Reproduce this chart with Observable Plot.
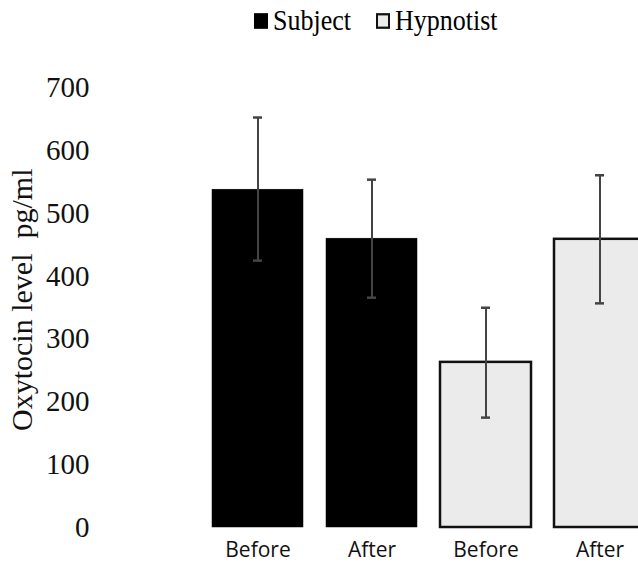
<!DOCTYPE html>
<html>
<head>
<meta charset="utf-8">
<script src="https://cdn.jsdelivr.net/npm/d3@7"></script>
<script src="https://cdn.jsdelivr.net/npm/@observablehq/plot@0.6"></script>
<style>
  body { margin: 0; background: white; width: 638px; height: 562px; overflow: hidden; }
  #legend { position: relative; height: 40px; font-family: "Liberation Serif", "Times New Roman", serif; font-size: 26px; color: #000; }
  .item { position: absolute; top: 6px; display: flex; align-items: center; line-height: 30px; transform: scaleY(1.12); transform-origin: left center; }
  .sw { width: 14px; height: 14px; margin-right: 5px; box-sizing: border-box; }
</style>
</head>
<body>
<div id="legend">
  <div class="item" style="left:254px"><span class="sw" style="background:#000"></span>Subject</div>
  <div class="item" style="left:376px"><span class="sw" style="background:#ebebeb;border:2px solid #111"></span>Hypnotist</div>
</div>
<div id="chart"></div>
<script>
const groups = ["Subject", "Subject", "Hypnotist", "Hypnotist"];
const times = ["Before", "After", "Before", "After"];
const means = [538, 460, 263, 459];
const lower = [425, 366, 175, 357];
const upper = [653, 554, 350, 561];
const yTicks = [0, 100, 200, 300, 400, 500, 600, 700];
const yLabel = "Oxytocin level  pg/ml";

const data = groups.map((g, i) => ({key: g + " " + times[i], group: g, time: times[i], mean: means[i], lo: lower[i], hi: upper[i]}));
const keys = data.map(d => d.key);
const labelOf = Object.fromEntries(data.map(d => [d.key, d.time]));

const chart = Plot.plot({
  width: 638,
  height: 522,
  marginTop: 47.5,
  marginBottom: 35,
  marginLeft: 92,
  marginRight: 0,
  style: {background: "white", overflow: "hidden"},
  x: {domain: keys, range: [199.5, 658.3], paddingInner: 0.2, paddingOuter: 0.1, axis: null},
  y: {domain: [0, 700], axis: null},
  color: {domain: ["Subject", "Hypnotist"], range: ["#000000", "#ebebeb"]},
  marks: [
    Plot.barY(data, {x: "key", y: "mean", fill: "group", stroke: d => d.group === "Subject" ? "#000" : "#111", strokeWidth: d => d.group === "Subject" ? 0.5 : 2.5}),
    Plot.ruleX(data, {x: "key", y1: "lo", y2: "hi", stroke: "#444", strokeWidth: 2}),
    Plot.tickY(data, {x: "key", y: "lo", stroke: "#444", strokeWidth: 2.5, insetLeft: 41, insetRight: 41}),
    Plot.tickY(data, {x: "key", y: "hi", stroke: "#444", strokeWidth: 2.5, insetLeft: 41, insetRight: 41}),
    Plot.axisY({ticks: yTicks, tickSize: 0, tickPadding: 3, tickFormat: d => String(d), fontSize: 29, fontFamily: "Liberation Serif, serif", fill: "#111", label: null}),
    Plot.axisX({tickSize: 0, tickPadding: 15, tickFormat: d => labelOf[d], fontSize: 21, fontFamily: "Open Sans, sans-serif", fill: "#111", label: null}),
    Plot.text([yLabel], {text: d => d, frameAnchor: "left", textAnchor: "middle", rotate: -90, dx: -70, dy: -8, fontSize: 30, fontFamily: "Liberation Serif, serif", fill: "#111"})
  ]
});
document.getElementById("chart").appendChild(chart);
</script>
</body>
</html>
